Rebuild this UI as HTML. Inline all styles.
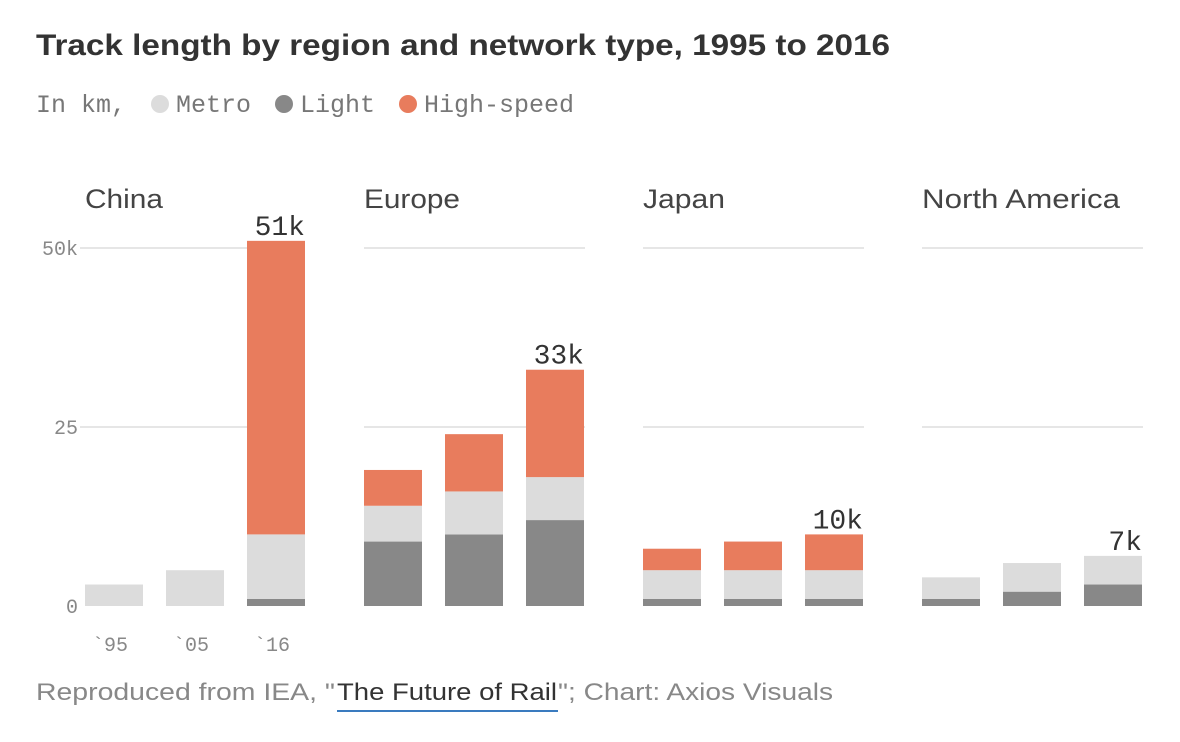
<!DOCTYPE html>
<html><head><meta charset="utf-8"><style>
body{margin:0;background:#fff;width:1180px;height:737px;overflow:hidden;font-family:"Liberation Sans",sans-serif}
</style></head><body>
<svg width="1180" height="737" id="svg">
<text x="36" y="55" font-size="30" font-weight="bold" fill="#333" textLength="854" lengthAdjust="spacingAndGlyphs">Track length by region and network type, 1995 to 2016</text>
<g font-family="Liberation Mono, monospace" font-size="25" fill="#777">
<text x="36" y="112">In km,</text>
<circle cx="160" cy="104" r="9" fill="#dcdcdc"/><text x="176" y="112">Metro</text>
<circle cx="284" cy="104" r="9" fill="#888"/><text x="300" y="112">Light</text>
<circle cx="408" cy="104" r="9" fill="#e87c5d"/><text x="424" y="112">High-speed</text>
</g>
<g id="plot"></g>
<g font-size="24">
<text x="36" y="700" fill="#888" textLength="299" lengthAdjust="spacingAndGlyphs">Reproduced from IEA, "</text>
<text x="337" y="700" fill="#333" textLength="220" lengthAdjust="spacingAndGlyphs">The Future of Rail</text>
<text x="558" y="700" fill="#888" textLength="275" lengthAdjust="spacingAndGlyphs">"; Chart: Axios Visuals</text>
</g>
<line x1="337" y1="711" x2="558" y2="711" stroke="#3a7bbf" stroke-width="2"/>
</svg>
<script>
const regions=["China","Europe","Japan","North America"];
const regionWidths=[78,96,82,198];
const years=["`95","`05","`16"];
const light=[[0,0,1],[9,10,12],[1,1,1],[1,2,3]];
const metro=[[3,5,9],[5,6,6],[4,4,4],[3,4,4]];
const highSpeed=[[0,0,41],[5,8,15],[3,4,5],[0,0,0]];
const totalLabels=["51k","33k","10k","7k"];
const yTicks=[0,25,50];
const yTickLabels=["0","25","50k"];
const NS="http://www.w3.org/2000/svg";
const g=document.getElementById("plot");
const y0=606,pxPer=358/50;
const y=v=>y0-v*pxPer;
const panelX=[85,364,643,922],barStep=81,barW=58;
function mk(t,a){const e=document.createElementNS(NS,t);for(const k in a)e.setAttribute(k,a[k]);g.appendChild(e);return e;}
regions.forEach((r,i)=>{
  const px=panelX[i];
  let t=mk("text",{x:px,y:208,"font-size":27,fill:"#444",textLength:regionWidths[i],lengthAdjust:"spacingAndGlyphs"});t.textContent=r;
  
  
  yTicks.forEach((v,j)=>{
    if(v===0)return;
    const l=mk("line",{x1:i===0?80:px,x2:px+barStep*2+barW+(i===0?0:1),y1:y(v),y2:y(v),stroke:"#ddd","stroke-width":1.5});
    
    
  });
  years.forEach((yr,k)=>{
    const bx=px+k*barStep;
    const segs=[[light[i][k],"#888"],[metro[i][k],"#dcdcdc"],[highSpeed[i][k],"#e87c5d"]];
    let base=0;
    segs.forEach((s,si)=>{
      if(s[0]<=0)return;
      const rc=mk("rect",{x:bx,y:y(base+s[0]),width:barW,height:s[0]*pxPer,fill:s[1]});
      
      
      base+=s[0];
    });
    if(k===2){
      const tl=mk("text",{x:bx+barW,y:y(base)-6,"font-size":28,fill:"#333","text-anchor":"end","font-family":"Liberation Mono, monospace"});
      tl.textContent=totalLabels[i];
      
      
    }
    if(i===0){
      const xl=mk("text",{x:bx+barW/2-4,y:651,"font-size":20,fill:"#888","text-anchor":"middle","font-family":"Liberation Mono, monospace"});
      xl.textContent=yr;
      
      
    }
  });
});
yTicks.forEach((v,j)=>{
  const tl=mk("text",{x:78,y:y(v)+7,"font-size":20,fill:"#888","text-anchor":"end","font-family":"Liberation Mono, monospace"});
  tl.textContent=yTickLabels[j];
  
  
});
</script>
</body></html>
